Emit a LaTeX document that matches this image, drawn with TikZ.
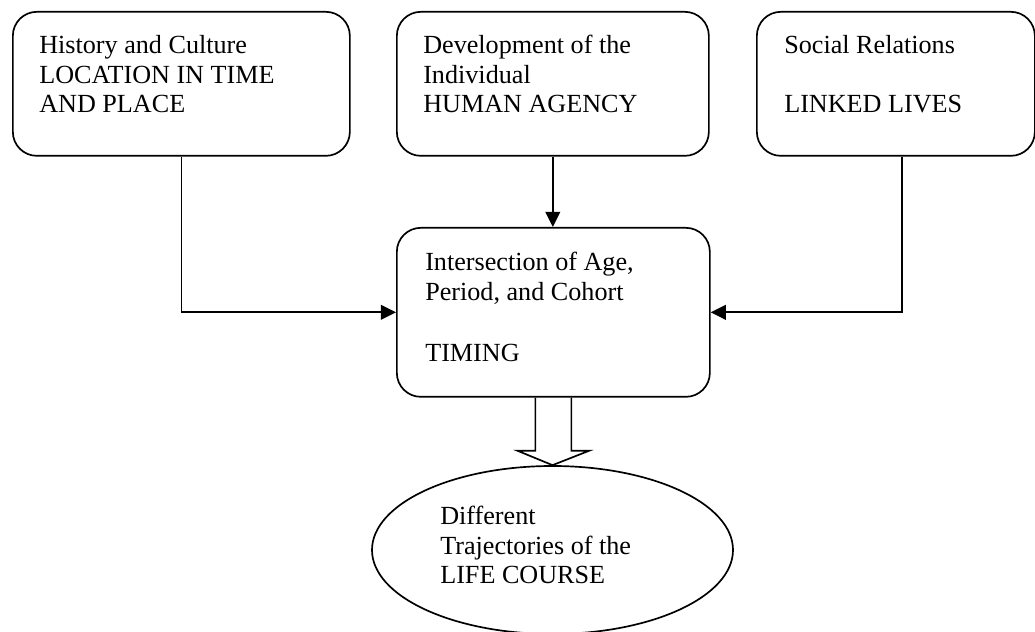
\documentclass[tikz,border=0pt]{standalone}
\usepackage{fontspec}
\setmainfont{Liberation Serif}
\usetikzlibrary{calc,arrows.meta,shapes.geometric}
\tikzset{
	box/.style={draw, line width=1.2pt, rounded corners=0.6cm, inner sep=0pt, anchor=north west},
	txt/.style={anchor=base west, align=left, inner sep=0pt, font=\fontsize{18.6}{21.3}\selectfont},
	link/.style={line width=1.2pt, -{Triangle[length=0.38cm,width=0.37cm]}},
	hollow/.style={line width=1.2pt, line join=miter}
}

\begin{document}
\begin{tikzpicture}
		%%%%% START %%%%%
		\useasboundingbox (0,0) rectangle (25.875,15.8);
		
		\node[box, minimum width=8.425cm, minimum height=3.6cm] (hist) at (0.3, 15.525) {};
		\node[txt] (histtxt) at (0.975, 12.975) {History and Culture\\LOCATION IN TIME\\AND PLACE};
		
		\node[box, minimum width=7.8cm, minimum height=3.6cm] (dev) at (9.9, 15.525) {};
		\node[txt] (devtxt) at (10.575, 12.975) {Development of the\\Individual\\HUMAN AGENCY};
		
		\node[box, minimum width=6.95cm, minimum height=3.6cm] (soc) at (18.9, 15.525) {};
		\node[txt] (soctxt) at (19.6, 12.975) {Social Relations\\[0.75cm]LINKED LIVES};
		
		\node[box, minimum width=7.825cm, minimum height=4.225cm] (ctr) at (9.9, 10.125) {};
		\node[txt] (ctrtxt) at (10.625, 6.75) {Intersection of Age,\\Period, and Cohort\\[0.8cm]TIMING};
		
		\node[draw, ellipse, line width=1.2pt, inner sep=0pt, minimum width=9.025cm, minimum height=4.2cm] (life) at (13.8125, 2.05) {};
		\node[txt] (lifetxt) at (11.0, 1.2) {Different\\Trajectories of the\\LIFE COURSE};
		
		\draw[link] (hist.south) |- (ctr.west);
		\draw[link] (dev.south) -- (dev.south |- ctr.north);
		\draw[link] ($(soc.south)+(0.15,0)$) |- (ctr.east);
		
		\draw[hollow] ($(ctr.south)+(-0.45,0)$) -- ++(0,-1.325) -- ++(-0.45,0) -- (life.north)
			-- ($(ctr.south)+(0.9,-1.325)$) -- ++(-0.45,0) -- ($(ctr.south)+(0.45,0)$);
		%%%%% END %%%%%
\end{tikzpicture}
\end{document}
